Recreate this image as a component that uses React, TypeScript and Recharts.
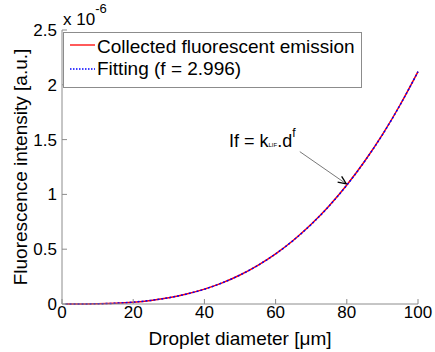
import React from "react";
import { LineChart, Line, XAxis, YAxis, Legend, ReferenceLine, ReferenceDot } from "recharts";

// droplet diameter [µm]
const diameters = [1, 5, 10, 15, 20, 25, 30, 35, 40, 45, 50, 55, 60, 65, 70, 75, 80, 85, 90, 95, 100];
// fluorescence intensity, in units of 1e-6 a.u.
const collected = [0, 0.0003, 0.0021, 0.0072, 0.017, 0.033, 0.057, 0.091, 0.136, 0.193, 0.265, 0.353, 0.458, 0.582, 0.727, 0.894, 1.085, 1.302, 1.545, 1.818, 2.12];
const fitting = [0, 0.0003, 0.0021, 0.0071, 0.017, 0.033, 0.057, 0.091, 0.135, 0.193, 0.264, 0.352, 0.457, 0.581, 0.726, 0.893, 1.084, 1.301, 1.544, 1.817, 2.12];

const xTicks = [0, 20, 40, 60, 80, 100];
const yTicks = [0, 0.5, 1, 1.5, 2, 2.5];

const seriesNames = ["Collected fluorescent emission", "Fitting (f = 2.996)"];

const data = diameters.map((d, i) => ({ d, collected: collected[i], fitting: fitting[i] }));

const FONT = "'Liberation Sans', Arial, sans-serif";
const AXIS = "#8c8c8c";

function LegendBox() {
  return (
    <svg width={299} height={56} style={{ display: "block", background: "#fff" }}>
      <rect x={0.5} y={0.5} width={298} height={55} fill="#fff" stroke={AXIS} />
      <line x1={7} x2={32} y1={13} y2={13} stroke="#ff0000" strokeWidth={1.3} />
      <text x={34} y={20.5} fontSize={19} fontFamily={FONT} fill="#000">{seriesNames[0]}</text>
      <line x1={7} x2={32} y1={37} y2={37} stroke="#0000ff" strokeWidth={1.3} strokeDasharray="1.5 1.5" />
      <text x={34} y={43} fontSize={19} fontFamily={FONT} fill="#000">{seriesNames[1]}</text>
    </svg>
  );
}

function Arrow(props: any) {
  const { x1, y1, x2, y2 } = props;
  const ang = Math.atan2(y2 - y1, x2 - x1);
  const len = 9;
  const a1 = ang + Math.PI - 0.4;
  const a2 = ang + Math.PI + 0.4;
  return (
    <g>
      <line x1={x1} y1={y1} x2={x2} y2={y2} stroke="#555" strokeWidth={0.8} />
      <line x1={x2} y1={y2} x2={x2 + len * Math.cos(a1)} y2={y2 + len * Math.sin(a1)} stroke="#000" strokeWidth={1.3} />
      <line x1={x2} y1={y2} x2={x2 + len * Math.cos(a2)} y2={y2 + len * Math.sin(a2)} stroke="#000" strokeWidth={1.3} />
    </g>
  );
}

function Formula(props: any) {
  const { cx, cy } = props;
  return (
    <text x={cx} y={cy} fontSize={18} fontFamily={FONT} fill="#000">
      If = k
      <tspan fontSize={6}>LIF</tspan>
      <tspan>.d</tspan>
      <tspan fontSize={12} dy={-10}>f</tspan>
    </text>
  );
}

function YTitle(props: any) {
  const vb = props.viewBox;
  const cy = vb.y + vb.height / 2;
  return (
    <g>
      <text x={27} y={cy} transform={`rotate(-90 27 ${cy})`} textAnchor="middle" fontSize={19} fontFamily={FONT} fill="#000">
        Fluorescence intensity [a.u.]
      </text>
      <text x={63} y={25} fontSize={17} fontFamily={FONT} fill="#000">
        x 10
        <tspan fontSize={13} dy={-12}>-6</tspan>
      </text>
    </g>
  );
}

function XTitle(props: any) {
  const vb = props.viewBox;
  return (
    <text x={vb.x + vb.width / 2} y={345} textAnchor="middle" fontSize={19} fontFamily={FONT} fill="#000">
      Droplet diameter [μm]
    </text>
  );
}

export default function App() {
  const tickStyle = { fontSize: 17, fill: "#000", fontFamily: FONT };
  return (
    <div style={{ position: "absolute", left: 0, top: 0, width: 435, height: 352, background: "#fff", fontFamily: FONT }}>
      <LineChart width={435} height={352} data={data} margin={{ top: 30, right: 17, bottom: 0, left: 0 }}>
        <XAxis
          dataKey="d"
          type="number"
          domain={[0, 100]}
          ticks={xTicks}
          height={48}
          stroke={AXIS}
          tick={tickStyle}
          tickSize={-5}
          tickMargin={7}
          label={<XTitle />}
        />
        <XAxis
          xAxisId="top"
          orientation="top"
          dataKey="d"
          type="number"
          domain={[0, 100]}
          ticks={xTicks}
          height={0}
          stroke={AXIS}
          tick={false}
          tickSize={-5}
        />
        <YAxis
          type="number"
          domain={[0, 2.5]}
          ticks={yTicks}
          width={62}
          stroke={AXIS}
          tick={tickStyle}
          tickSize={-5}
          tickMargin={10}
          label={<YTitle />}
        />
        <YAxis
          yAxisId="right"
          orientation="right"
          type="number"
          domain={[0, 2.5]}
          ticks={yTicks}
          width={0}
          stroke={AXIS}
          tick={false}
          tickSize={-5}
        />
        <Line
          type="monotone"
          dataKey="collected"
          name={seriesNames[0]}
          stroke="#ff0000"
          strokeWidth={1.5}
          dot={false}
          isAnimationActive={false}
        />
        <Line
          type="monotone"
          dataKey="fitting"
          name={seriesNames[1]}
          stroke="#0000ff"
          strokeWidth={1.5}
          strokeDasharray="2 2"
          dot={false}
          isAnimationActive={false}
        />
        <ReferenceLine
          segment={[
            { x: 66.8, y: 1.39 },
            { x: 79.9, y: 1.095 },
          ]}
          shape={<Arrow />}
        />
        <ReferenceDot x={46.9} y={1.435} r={0} shape={<Formula />} />
        <Legend
          layout="horizontal"
          align="center"
          verticalAlign="middle"
          wrapperStyle={{ left: 63, top: 32, width: 299, height: 56 }}
          content={() => <LegendBox />}
        />
      </LineChart>
    </div>
  );
}
